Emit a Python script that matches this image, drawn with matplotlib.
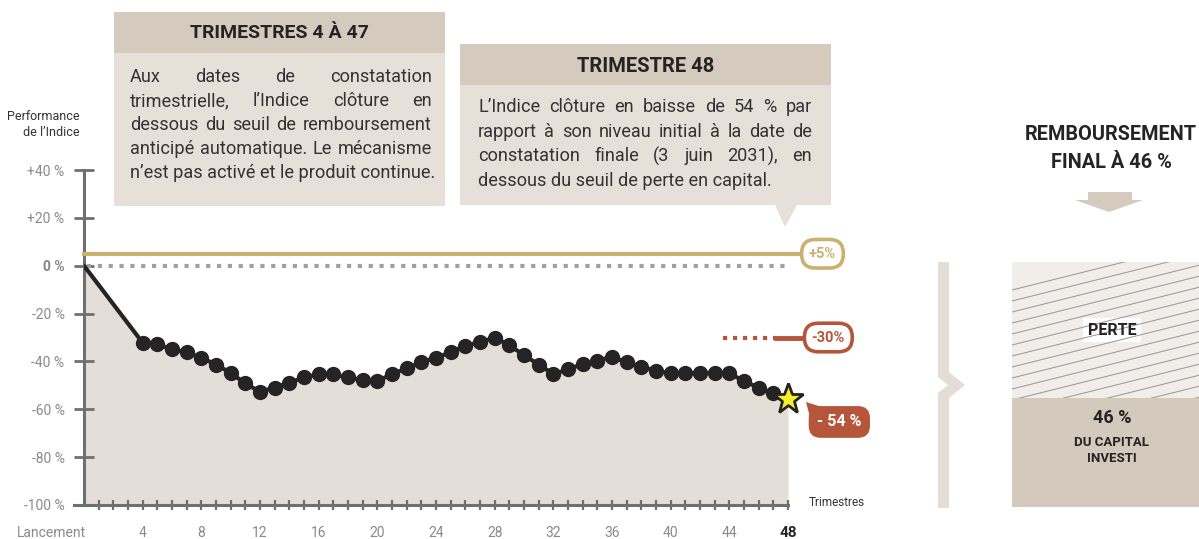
import matplotlib.pyplot as plt
from matplotlib.patches import Rectangle, Polygon

plt.rcParams['font.family'] = ['Roboto', 'DejaVu Sans']

# performance de l'indice, trimestres 4 a 47 puis constatation finale (48)
trimestres = list(range(4, 48))
performance = [-32.2, -32.9, -34.9, -36.2, -38.5, -41.3, -44.8, -49.2, -52.7, -50.9,
               -48.9, -46.7, -45.4, -45.4, -46.7, -47.8, -48.2, -45.3, -42.9, -40.3,
               -38.5, -36.1, -33.5, -31.9, -30.1, -33.2, -37.4, -41.3, -45.3, -43.3,
               -41.1, -39.7, -38.1, -40.4, -42.3, -43.9, -45.0, -45.0, -44.8, -44.8,
               -45.0, -48.2, -51.0, -53.4]
trim_final = 48
perf_final = -55.5

seuil_rappel = 5
seuil_perte = -30
yticks = [40, 20, 0, -20, -40, -60, -80, -100]
ytick_labels = ['+40 %', '+20 %', '0 %', '-20 %', '-40 %', '-60 %', '-80 %', '-100 %']
xticks = list(range(0, 49, 4))
xtick_labels = ['Lancement'] + [str(t) for t in xticks[1:]]

txt_47 = ['Aux dates de constatation',
          'trimestrielle, l’Indice clôture en',
          'dessous du seuil de remboursement',
          'anticipé automatique. Le mécanisme',
          'n’est pas activé et le produit continue.']
txt_48 = ['L’Indice clôture en baisse de 54 % par',
          'rapport à son niveau initial à la date de',
          'constatation finale (3 juin 2031), en',
          'dessous du seuil de perte en capital.']

DARK = '#262324'
GREY = '#6f6f6f'
LBL = '#8a8a8a'
GOLD = '#c8b26e'
RED = '#b5553a'
HEAD = '#d4cabe'
BODY = '#e6e0d9'
FILL = '#e3ded7'

W, H = 1199, 539
fig = plt.figure(figsize=(W / 100, H / 100), dpi=100)

# ---- graphique principal
ax = fig.add_axes([84 / W, (H - 505) / H, 704 / W, 335 / H])
ax.set_xlim(0, 48)
ax.set_ylim(-100, 40)
for s in ax.spines.values():
    s.set_visible(False)

xs = [0] + trimestres + [trim_final]
ys = [0] + performance + [perf_final]
ax.fill_between(xs, ys, -100, color=FILL, lw=0, zorder=1)
ax.plot(xs, ys, color=DARK, lw=3, zorder=4, solid_capstyle='round')
ax.plot(trimestres, performance, 'o', color=DARK, ms=10, zorder=5, clip_on=False)
ax.plot([trim_final], [perf_final], marker='*', color='#f7ee2b', mec=DARK, mew=2,
        ms=23, zorder=6, clip_on=False)

# axes dessines a la main
ax.plot([0, 0], [-100, 40], color=GREY, lw=2.2, zorder=3, clip_on=False)
ax.plot([-0.7, 48], [-100, -100], color=GREY, lw=2.2, zorder=3, clip_on=False)
ax.set_yticks(yticks)
ax.set_yticklabels(ytick_labels)
ax.tick_params(axis='y', direction='inout', length=14, width=2, color=GREY,
               labelsize=10, labelcolor=LBL, pad=7)
ax.set_xticks(range(1, 49))
ax.set_xticklabels([])
ax.tick_params(axis='x', direction='inout', length=7, width=1.6, color=GREY)
for lab in ax.get_yticklabels():
    if lab.get_text() == '0 %':
        lab.set_fontweight('bold')
        lab.set_color('#858585')
for t, lab in zip(xticks, xtick_labels):
    if t == 48:
        ax.text(t, -111.5, lab, ha='center', va='center', fontsize=11, fontweight='bold', color=DARK)
    elif t == 0:
        ax.text(t + 0.15, -111.5, lab, ha='right', va='center', fontsize=10, color=LBL)
    else:
        ax.text(t, -111.5, lab, ha='center', va='center', fontsize=10, color=LBL)
ax.text(49.4, -99, 'Trimestres', ha='left', va='center', fontsize=8.5, color='#333333')

# seuils
yt = ax.get_yaxis_transform()
ax.plot([0, 1.015], [seuil_rappel] * 2, color=GOLD, lw=3, transform=yt, clip_on=False, zorder=3)
ax.plot([0.004, 1.0], [0, 0], color='#a0a0a0', lw=3, ls=(0, (1, 1.6)), transform=yt,
        clip_on=False, zorder=3)
ax.plot([0.908, 0.983], [seuil_perte] * 2, color=RED, lw=3, ls=(0, (1, 1.4)),
        transform=yt, clip_on=False, zorder=3)
ax.plot([0.983, 1.02], [seuil_perte] * 2, color=RED, lw=3.5, transform=yt,
        clip_on=False, zorder=3)
ax.text(50.35, seuil_rappel, '+5%', ha='center', va='center', fontsize=10.5, fontweight='bold',
        color=GOLD, clip_on=False, zorder=7,
        bbox=dict(boxstyle='round,pad=0.5,rounding_size=0.95', fc='white', ec=GOLD, lw=2.6))
ax.text(50.75, seuil_perte, '-30%', ha='center', va='center', fontsize=10.5, fontweight='bold',
        color=RED, clip_on=False, zorder=7,
        bbox=dict(boxstyle='round,pad=0.5,rounding_size=0.95', fc='white', ec=RED, lw=2.6))
ax.text(51.5, -65.3, '- 54 %', ha='center', va='center', fontsize=11.5, fontweight='bold',
        color='white', clip_on=False, zorder=7,
        bbox=dict(boxstyle='round,pad=0.48,rounding_size=0.7', fc=RED, ec=RED, lw=1))

# ---- calque en pixels pour les encadres
ov = fig.add_axes([0, 0, 1, 1], zorder=10)
ov.set_xlim(0, W)
ov.set_ylim(H, 0)
ov.axis('off')
ov.patch.set_alpha(0)

# queue de la bulle -54 %
ov.add_patch(Polygon([(806, 402), (825, 408), (811, 421)], closed=True, fc=RED, ec='none'))

ov.text(80, 117, 'Performance', ha='right', va='center', fontsize=9, color='#333333')
ov.text(80, 132, 'de l’Indice', ha='right', va='center', fontsize=9, color='#333333')

renderer = fig.canvas.get_renderer()


def justify(lines, x0, x1, ys, size):
    for i, (line, y) in enumerate(zip(lines, ys)):
        words = line.split(' ')
        if i == len(lines) - 1:
            ov.text(x0, y, line, ha='left', va='center', fontsize=size, color='#333333')
            continue
        widths = []
        for w in words:
            t = ov.text(0, 0, w, fontsize=size)
            widths.append(t.get_window_extent(renderer).width)
            t.remove()
        gap = (x1 - x0 - sum(widths)) / (len(words) - 1)
        x = x0
        for w, wd in zip(words, widths):
            ov.text(x, y, w, ha='left', va='center', fontsize=size, color='#333333')
            x += wd + gap


# encadre trimestres 4 a 47
ov.add_patch(Rectangle((114, 12), 331, 41, fc=HEAD, ec='none'))
ov.add_patch(Rectangle((114, 53), 331, 153, fc=BODY, ec='none'))
ov.text(279.5, 33, 'TRIMESTRES 4 À 47', ha='center', va='center', fontsize=14,
        fontweight='bold', color=DARK)
justify(txt_47, 130, 432, [77, 101, 125, 149, 173], 13.1)

# encadre trimestre 48
ov.add_patch(Rectangle((460, 44), 371, 41, fc=HEAD, ec='none'))
ov.add_patch(Rectangle((460, 85), 371, 120, fc=BODY, ec='none'))
ov.add_patch(Polygon([(775, 205), (797, 205), (785, 227)], closed=True, fc=BODY, ec='none'))
ov.text(645.5, 66, 'TRIMESTRE 48', ha='center', va='center', fontsize=14.5,
        fontweight='bold', color=DARK)
justify(txt_48, 478, 812, [107, 132, 156, 181], 13.1)

# accolade
ov.add_patch(Polygon([(938, 262), (938, 377), (948, 385), (938, 393), (938, 508),
                      (949, 508), (949, 398), (965, 385), (949, 372), (949, 262)],
                     closed=True, fc='#e3ddd6', ec='none'))

# bloc remboursement final
ov.text(1111, 135, 'REMBOURSEMENT', ha='center', va='center', fontsize=14.3,
        fontweight='bold', color=DARK)
ov.text(1111, 162, 'FINAL À 46 %', ha='center', va='center', fontsize=14.3,
        fontweight='bold', color=DARK)
ov.add_patch(Rectangle((1088, 192), 44, 9, fc=HEAD, ec='none'))
ov.add_patch(Polygon([(1075, 200), (1143, 200), (1109, 212)], closed=True, fc=HEAD, ec='none'))

hatch_bg = Rectangle((1012, 262), 190, 136, fc='#f1eeea', ec='none')
ov.add_patch(hatch_bg)
for k in range(-2, 30):
    y0 = 262 + k * 11 + 50
    ln, = ov.plot([1012, 1210], [y0, y0 - 198 * 0.25], color='#9a9a9a', lw=0.75)
    ln.set_clip_path(hatch_bg)
ov.add_patch(Rectangle((1012, 398), 190, 109, fc='#d3c9bd', ec='none'))
ov.add_patch(Rectangle((1083, 318), 58, 24, fc='white', ec='none'))
ov.text(1112, 330.5, 'PERTE', ha='center', va='center', fontsize=11.5, fontweight='bold', color=DARK)
ov.text(1112, 418, '46 %', ha='center', va='center', fontsize=13, fontweight='bold', color=DARK)
ov.text(1112, 443, 'DU CAPITAL', ha='center', va='center', fontsize=9.5, fontweight='bold', color=DARK)
ov.text(1112, 459, 'INVESTI', ha='center', va='center', fontsize=9.5, fontweight='bold', color=DARK)

fig.savefig('out.png', dpi=100)
